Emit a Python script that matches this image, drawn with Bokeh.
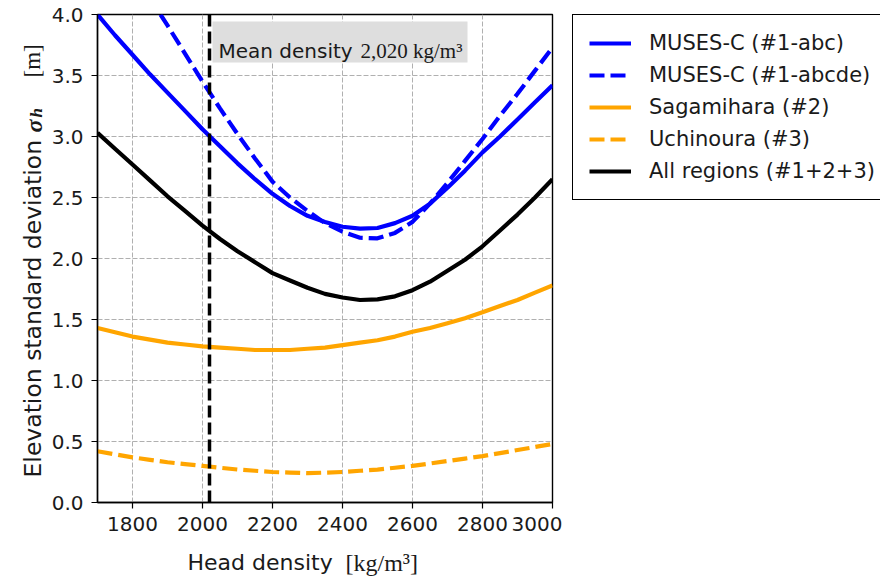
from bokeh.plotting import figure
from bokeh.models import (Legend, LegendItem, Label, Span, BoxAnnotation,
                          FixedTicker, PrintfTickFormatter)
from bokeh.layouts import row, column
from bokeh.embed import file_html
from bokeh.resources import INLINE

# ---------------- data ----------------
density = [1700, 1750, 1800, 1850, 1900, 1950, 2000, 2050, 2100, 2150, 2200, 2250, 2300, 2350,
           2400, 2450, 2500, 2550, 2600, 2650, 2700, 2750, 2800, 2850, 2900, 2950, 3000]
muses_abc = [4.00, 3.83, 3.67, 3.51, 3.36, 3.21, 3.06, 2.92, 2.78, 2.65, 2.53, 2.43, 2.35, 2.30,
             2.26, 2.245, 2.25, 2.29, 2.35, 2.45, 2.58, 2.72, 2.87, 3.00, 3.14, 3.28, 3.42]
density_abcde = [1880, 1900, 1950, 2000, 2050, 2100, 2150, 2200, 2250, 2300, 2350, 2400, 2450,
                 2500, 2550, 2600, 2650, 2700, 2750, 2800, 2850, 2900, 2950, 3000]
muses_abcde = [4.00, 3.91, 3.68, 3.45, 3.23, 3.02, 2.82, 2.63, 2.50, 2.39, 2.29, 2.22, 2.17,
               2.165, 2.21, 2.30, 2.45, 2.62, 2.80, 2.98, 3.17, 3.35, 3.54, 3.73]
sagamihara = [1.43, 1.395, 1.36, 1.335, 1.31, 1.295, 1.28, 1.27, 1.26, 1.25, 1.25, 1.25, 1.26, 1.27,
              1.29, 1.31, 1.33, 1.36, 1.40, 1.43, 1.47, 1.51, 1.56, 1.61, 1.66, 1.72, 1.78]
uchinoura = [0.42, 0.395, 0.37, 0.35, 0.33, 0.315, 0.30, 0.285, 0.27, 0.26, 0.25, 0.245, 0.24, 0.245,
             0.25, 0.26, 0.27, 0.285, 0.30, 0.32, 0.34, 0.36, 0.38, 0.405, 0.43, 0.455, 0.48]
all_regions = [3.03, 2.90, 2.77, 2.64, 2.51, 2.39, 2.27, 2.16, 2.06, 1.97, 1.88, 1.82, 1.76, 1.71,
               1.68, 1.66, 1.665, 1.69, 1.74, 1.81, 1.90, 1.99, 2.10, 2.23, 2.36, 2.50, 2.65]
mean_density = 2020
x_ticks = [1800, 2000, 2200, 2400, 2600, 2800, 3000]
y_ticks = [0.0, 0.5, 1.0, 1.5, 2.0, 2.5, 3.0, 3.5, 4.0]
legend_labels = ["MUSES-C (#1-abc)", "MUSES-C (#1-abcde)", "Sagamihara (#2)",
                 "Uchinoura (#3)", "All regions (#1+2+3)"]

SANS = "DejaVu Sans"
SERIF = "Liberation Serif"
TXT = "#1a1a1a"
W, H = 880, 579
YLAB_W = 46
XLAB_H = 34
TOP_H = H - XLAB_H          # 545
FRAME_L, FRAME_R = 97, 552  # plot frame edges in page pixels
P_W = FRAME_R + 10 - YLAB_W # main figure: 10 px border right of the frame
LEG_W = W - YLAB_W - P_W    # 318

BLUE = "#0000ff"
ORANGE = "#ffa500"
LW = 4.2
styles = [dict(line_color=BLUE, line_width=LW),
          dict(line_color=BLUE, line_width=LW, line_dash="15 6"),
          dict(line_color=ORANGE, line_width=LW),
          dict(line_color=ORANGE, line_width=LW, line_dash="15 6"),
          dict(line_color="black", line_width=LW)]
series = [(density, muses_abc), (density_abcde, muses_abcde), (density, sagamihara),
          (density, uchinoura), (density, all_regions)]


def blank(width, height, xr=None):
    f = figure(width=width, height=height, x_range=xr or (0, width), y_range=(0, height),
               x_axis_type=None, y_axis_type=None, output_backend="svg",
               toolbar_location=None, min_border=0)
    f.outline_line_color = None
    f.background_fill_color = "white"
    f.border_fill_color = "white"
    return f


# ---------------- main plot ----------------
p = figure(width=P_W, height=TOP_H, x_range=(1700, 3000), y_range=(0, 4.0),
           output_backend="svg", toolbar_location=None,
           min_border_left=FRAME_L - YLAB_W, min_border_right=10, min_border_top=14,
           min_border_bottom=TOP_H - 502)
p.background_fill_color = "white"
p.border_fill_color = "white"
p.outline_line_color = "black"
p.outline_line_width = 1.4

for ax in (p.xaxis[0], p.yaxis[0]):
    ax.axis_line_color = "black"
    ax.axis_line_width = 1.4
    ax.major_tick_line_color = "black"
    ax.major_tick_line_width = 1.2
    ax.major_tick_out = 6
    ax.major_tick_in = 0
    ax.minor_tick_line_color = None
    ax.major_label_text_font = SANS
    ax.major_label_text_font_size = "20px"
    ax.major_label_text_color = TXT
    ax.major_label_standoff = 8
p.xaxis[0].ticker = FixedTicker(ticks=x_ticks)
p.yaxis[0].ticker = FixedTicker(ticks=y_ticks)
p.yaxis[0].formatter = PrintfTickFormatter(format="%.1f")

for g in (p.xgrid[0], p.ygrid[0]):
    g.grid_line_color = "#b0b0b0"
    g.grid_line_width = 1
    g.grid_line_dash = "5 2"

for (xs, ys), st in zip(series, styles):
    p.line(xs, ys, **st)

p.add_layout(Span(location=mean_density, dimension="height", line_color="black",
                  line_width=3.5, line_dash="12 5"))

# annotation box "Mean density"
p.add_layout(BoxAnnotation(left=115, right=370, top=481, bottom=440,
                           left_units="screen", right_units="screen",
                           top_units="screen", bottom_units="screen",
                           fill_color="#dedede", fill_alpha=1.0, line_color=None))
p.add_layout(Label(x=121, y=452, x_units="screen", y_units="screen",
                   text="Mean density", text_font=SANS, text_font_size="20px",
                   text_color=TXT, text_baseline="alphabetic"))
p.add_layout(Label(x=263, y=452, x_units="screen", y_units="screen",
                   text="2,020 kg/m³", text_font=SERIF, text_font_size="21px",
                   text_color=TXT, text_baseline="alphabetic"))

# ---------------- legend (own strip to the right; its lines lie outside that strip's ranges) ----
legfig = blank(LEG_W, H)
leg_renderers = [legfig.line(xs, ys, **st) for (xs, ys), st in zip(series, styles)]
legend = Legend(items=[LegendItem(label=l, renderers=[r]) for l, r in
                       zip(legend_labels, leg_renderers)],
                location=(10, 379), orientation="vertical",
                label_text_font=SANS, label_text_font_size="21px", label_text_color=TXT,
                glyph_width=42, glyph_height=24, label_height=24, label_standoff=18,
                spacing=8, padding=16, margin=0,
                border_line_color="black", border_line_width=1.5, border_line_alpha=1.0,
                background_fill_color="white", background_fill_alpha=1.0)
legfig.add_layout(legend, "center")

# ---------------- y axis label (strip left of the plot, pixel coordinates) ----------------
ylab = blank(YLAB_W, H)
ROT = 1.5707963
for txt, bx, cy, font, size, style in [
        ("Elevation standard deviation", 32, 477, SANS, "23.5px", "normal"),
        ("σ", 33, 132, SERIF, "24px", "bold italic"),
        ("h", 36, 117, SERIF, "17px", "bold italic"),
        ("[m]", 32, 77, SERIF, "23px", "normal")]:
    ylab.add_layout(Label(x=bx, y=H - cy, angle=ROT, text=txt, text_font=font,
                          text_font_size=size, text_font_style=style, text_color=TXT,
                          text_align="left", text_baseline="alphabetic"))

# ---------------- x axis label (strip below; its frame is aligned with the plot frame) -------
xlab = blank(P_W, XLAB_H, xr=(0, FRAME_R - FRAME_L))
for txt, cx, font, size in [("Head density", 187, SANS, "22px"),
                            ("[kg/m³]", 345, SERIF, "24px")]:
    xlab.add_layout(Label(x=cx - FRAME_L, y=17, text=txt, text_font=font,
                          text_font_size=size, text_color=TXT,
                          text_align="left", text_baseline="alphabetic"))

layout = row(ylab, column(p, xlab), legfig)
open("out.html", "w").write(file_html(layout, INLINE))
